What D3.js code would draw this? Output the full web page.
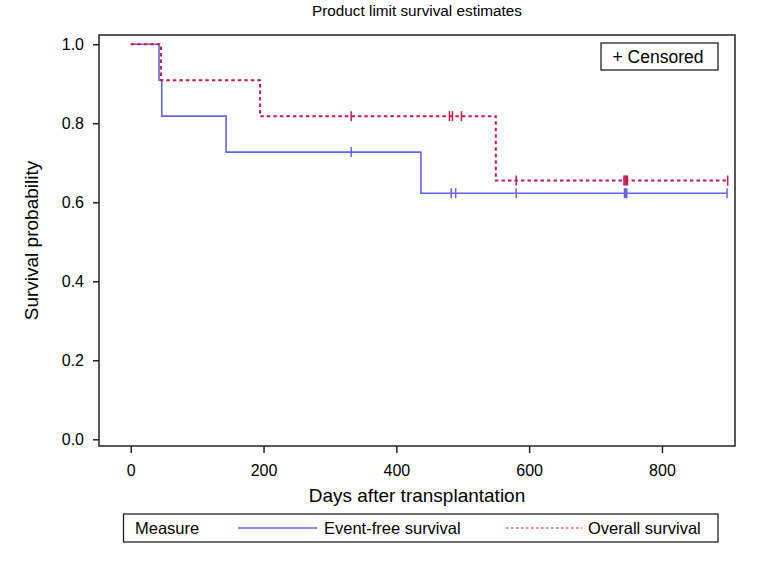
<!DOCTYPE html>
<html><head><meta charset="utf-8">
<script src="https://cdn.jsdelivr.net/npm/d3@7"></script>
<style>body{margin:0;background:#fff}text{font-family:"Liberation Sans",Arial,Helvetica,sans-serif;fill:#000}</style>
</head><body>
<svg id="c" width="779" height="572"></svg>
<script>
// Data
const efsTimes = [0, 42.6, 46.7, 143.6, 437, 898];
const efsSurv  = [1.0, 0.909, 0.818, 0.727, 0.623, 0.623];
const osTimes  = [0, 45.6, 194.8, 549.8, 898];
const osSurv   = [1.0, 0.909, 0.818, 0.655, 0.655];
const efsCensored = [332, 482.6, 489.4, 580.5, 743.5, 745.2, 747, 898];
const osCensored  = [332, 480, 484.5, 498, 580.5, 742.8, 744.5, 746.2, 748, 899];
const xTicks = [0, 200, 400, 600, 800];
const yTicks = [0.0, 0.2, 0.4, 0.6, 0.8, 1.0];
const seriesNames = ["Event-free survival", "Overall survival"];
const colors = ["#6464e6", "#c41a50"];

const svg = d3.select("#c");
const L = 99, R = 735, T = 35, B = 446;
const x = d3.scaleLinear().domain([-47.8, 910]).range([L, R]);
const y = d3.scaleLinear().domain([-0.017, 1.0235]).range([B, T]);

function stepAt(times, surv, t){
  let v = surv[0];
  for (let i=0;i<times.length;i++){ if (times[i] <= t) v = surv[i]; }
  return v;
}

// title
svg.append("text").attr("x", (L+R)/2).attr("y", 16).attr("text-anchor","middle")
  .style("font-size","15.3px").text("Product limit survival estimates");

// axes
const xa = svg.append("g").attr("transform",`translate(0,${B})`)
  .call(d3.axisBottom(x).tickValues(xTicks).tickSize(7).tickPadding(13).tickFormat(d3.format("d")));
const ya = svg.append("g").attr("transform",`translate(${L},0)`)
  .call(d3.axisLeft(y).tickValues(yTicks).tickSize(6).tickPadding(9).tickFormat(d3.format(".1f")));
[xa, ya].forEach(g=>{
  g.select(".domain").remove();
  g.selectAll(".tick line").attr("stroke","#222").attr("stroke-width",1.5);
  g.selectAll(".tick text").style("font-size","16px").attr("fill","#000")
    .style("font-family","'Liberation Sans',Arial,sans-serif");
});
xa.selectAll(".tick text").attr("dy","0.62em");

// frame
svg.append("rect").attr("x",L).attr("y",T).attr("width",R-L).attr("height",B-T)
  .attr("fill","none").attr("stroke","#222").attr("stroke-width",1.5);

// axis labels
svg.append("text").attr("x",(L+R)/2).attr("y",502).attr("text-anchor","middle")
  .style("font-size","19px").text("Days after transplantation");
svg.append("text").attr("transform",`translate(38,${(T+B)/2}) rotate(-90)`).attr("text-anchor","middle")
  .style("font-size","19px").text("Survival probability");

// curves
const line = d3.line().x(d=>x(d[0])).y(d=>y(d[1])).curve(d3.curveStepAfter);
function pts(times, surv){ return times.map((t,i)=>[t, surv[i]]); }

svg.append("path").datum(pts(efsTimes, efsSurv)).attr("d", line)
  .attr("fill","none").attr("stroke",colors[0]).attr("stroke-width",1.6);
svg.append("path").datum(pts(osTimes, osSurv)).attr("d", line)
  .attr("fill","none").attr("stroke",colors[1]).attr("stroke-width",2)
  .attr("stroke-dasharray","3.5,3");

// censor marks
function marks(list, times, surv, col){
  svg.append("g").selectAll("line").data(list).join("line")
    .attr("x1",d=>x(d)).attr("x2",d=>x(d))
    .attr("y1",d=>y(stepAt(times,surv,d))-5).attr("y2",d=>y(stepAt(times,surv,d))+5)
    .attr("stroke",col).attr("stroke-width",1.5);
}
marks(efsCensored, efsTimes, efsSurv, colors[0]);
marks(osCensored, osTimes, osSurv, colors[1]);

// censored legend
svg.append("rect").attr("x",601).attr("y",43).attr("width",117).attr("height",27)
  .attr("fill","#fff").attr("stroke","#222").attr("stroke-width",1.3);
svg.append("text").attr("x",612.5).attr("y",63).style("font-size","17.5px").text("+ Censored");

// bottom legend
svg.append("rect").attr("x",123.5).attr("y",514).attr("width",594.5).attr("height",28)
  .attr("fill","#fff").attr("stroke","#222").attr("stroke-width",1.3);
svg.append("text").attr("x",135).attr("y",534).style("font-size","16.5px").text("Measure");
svg.append("line").attr("x1",238).attr("x2",317).attr("y1",528).attr("y2",528)
  .attr("stroke",colors[0]).attr("stroke-width",1.6);
svg.append("text").attr("x",324).attr("y",534).style("font-size","16.5px").text(seriesNames[0]);
svg.append("line").attr("x1",506).attr("x2",582).attr("y1",528).attr("y2",528)
  .attr("stroke",colors[1]).attr("stroke-width",1.2).attr("stroke-dasharray","2.5,2.5");
svg.append("text").attr("x",588).attr("y",534).style("font-size","16.5px").text(seriesNames[1]);
</script>
</body></html>
